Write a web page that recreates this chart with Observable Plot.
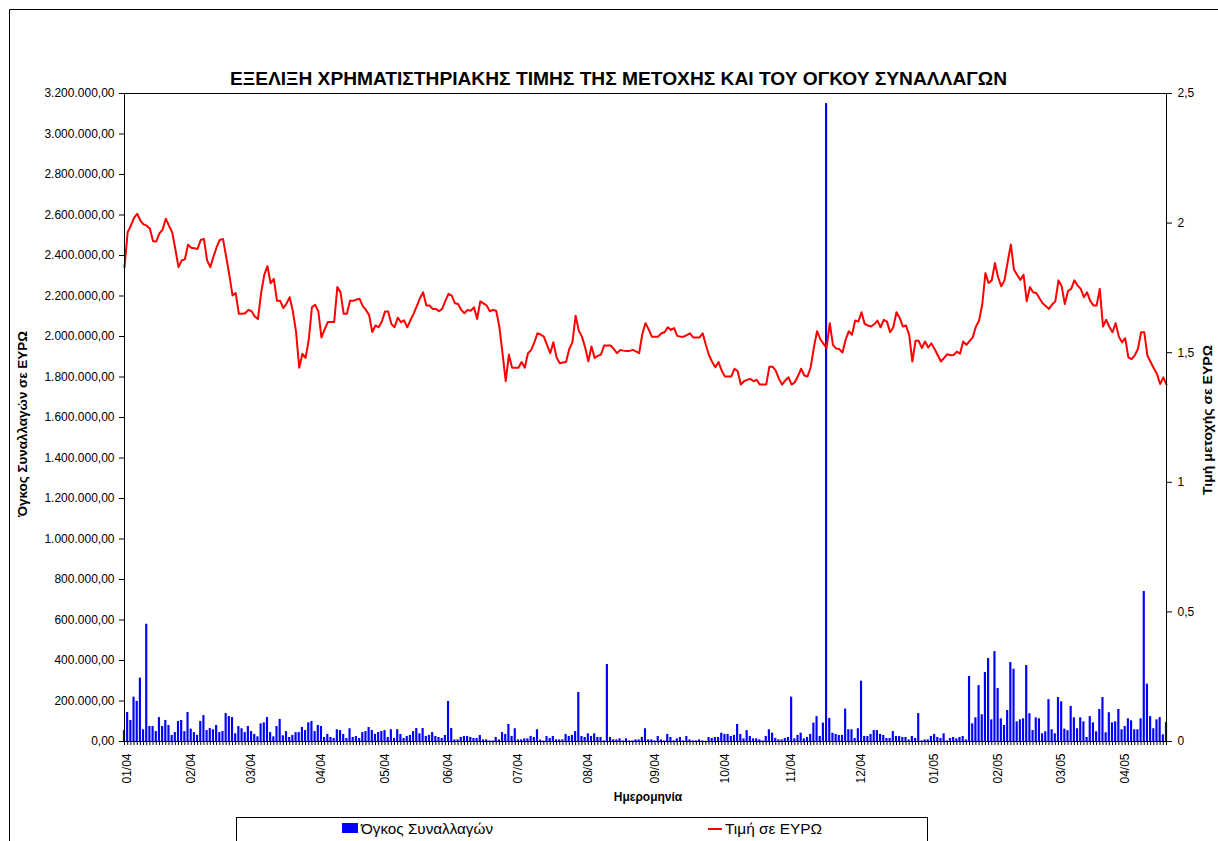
<!DOCTYPE html>
<html><head><meta charset="utf-8">
<script src="https://cdn.jsdelivr.net/npm/d3@7"></script>
<script src="https://cdn.jsdelivr.net/npm/@observablehq/plot@0.6"></script>
<style>
html,body{margin:0;padding:0;background:#fff;}
#wrap{position:relative;width:1218px;height:841px;overflow:hidden;background:#fff;}
#wrap svg{position:absolute;left:0;top:0;}
</style></head><body><div id="wrap"></div>
<script>
// Month labels and number of trading days (bars) in each month
const months = ["01/04","02/04","03/04","04/04","05/04","06/04","07/04","08/04","09/04","10/04","11/04","12/04","01/05","02/05","03/05","04/05"];
const tradingDays = [20,19,22,20,20,22,22,21,22,21,22,23,20,20,20,15];

// Daily traded value, thousands of EUR (left axis)
const volumeThousands = [
  54,143,104,219,198,313,58,579,74,74,49,118,74,104,79,30,44,99,104,49,
  143,61,44,30,99,128,54,64,58,79,44,49,138,123,118,38,74,63,44,
  74,49,35,23,87,92,118,44,23,74,109,28,49,20,30,44,44,69,54,92,99,49,
  79,74,20,35,20,15,58,54,35,15,63,20,25,15,44,49,69,54,35,44,
  49,54,20,58,15,58,35,15,25,30,49,64,38,64,25,30,44,25,20,15,
  30,198,64,8,8,20,25,25,20,15,15,30,8,8,3,3,20,8,44,35,84,25,
  63,8,8,13,13,25,20,58,7,2,25,15,25,8,8,8,35,25,30,49,242,25,
  20,38,25,38,20,20,3,380,20,8,8,13,3,13,3,3,8,8,20,63,8,
  8,3,25,8,3,35,20,3,13,20,3,25,8,3,3,8,3,1,20,15,20,20,
  41,35,35,25,30,84,35,13,54,25,13,13,8,3,25,58,41,15,8,8,15,
  20,219,13,30,41,13,20,35,91,123,25,91,3150,114,41,35,30,30,160,58,58,15,
  63,298,25,25,35,54,54,35,30,15,15,49,25,25,20,20,8,25,15,138,3,8,8,
  25,35,20,15,38,3,15,20,13,20,25,8,321,87,117,276,132,341,410,107,
  444,262,112,79,153,390,357,97,107,112,375,137,54,117,112,38,48,207,58,38,
  217,196,61,53,173,117,63,117,97,20,123,92,48,158,217,43,142,92,97,158,
  58,74,112,102,58,58,112,741,283,123,63,107,118,33,94
];

// Daily closing price, EUR (right axis)
const priceEUR = [
  1.83,1.965,1.99,2.02,2.036,2.01,1.995,1.99,1.978,1.93,1.929,1.96,1.975,2.017,1.99,1.965,1.90,1.83,1.856,1.86,
  1.917,1.905,1.903,1.90,1.935,1.939,1.856,1.83,1.87,1.907,1.935,1.939,1.87,1.80,1.721,1.73,1.65,1.65,1.652,
  1.665,1.66,1.64,1.63,1.73,1.80,1.834,1.768,1.785,1.70,1.70,1.672,1.69,1.714,1.66,1.58,1.442,1.496,1.48,1.55,1.675,1.685,
  1.66,1.559,1.59,1.618,1.618,1.618,1.753,1.733,1.65,1.65,1.70,1.70,1.705,1.708,1.68,1.665,1.645,1.58,1.605,1.598,
  1.62,1.659,1.659,1.611,1.598,1.635,1.618,1.625,1.598,1.625,1.65,1.68,1.71,1.733,1.682,1.682,1.669,1.669,1.66,1.669,
  1.70,1.727,1.72,1.691,1.688,1.665,1.652,1.665,1.662,1.675,1.63,1.698,1.69,1.682,1.66,1.665,1.662,1.60,1.496,1.39,1.493,1.442,
  1.442,1.442,1.464,1.442,1.498,1.51,1.54,1.575,1.57,1.562,1.53,1.498,1.54,1.482,1.459,1.462,1.464,1.514,1.54,1.643,1.585,1.562,
  1.52,1.467,1.524,1.48,1.488,1.493,1.528,1.528,1.528,1.515,1.498,1.51,1.508,1.507,1.507,1.511,1.505,1.498,1.572,1.614,1.59,
  1.562,1.562,1.562,1.575,1.579,1.598,1.588,1.595,1.565,1.562,1.562,1.568,1.575,1.559,1.559,1.559,1.575,1.53,1.49,1.464,1.444,1.464,
  1.43,1.408,1.408,1.408,1.438,1.429,1.377,1.39,1.395,1.399,1.39,1.395,1.377,1.377,1.377,1.446,1.446,1.431,1.399,1.377,1.393,
  1.405,1.377,1.386,1.41,1.438,1.412,1.408,1.444,1.52,1.583,1.553,1.535,1.518,1.614,1.53,1.516,1.514,1.501,1.55,1.583,1.569,1.624,
  1.62,1.656,1.611,1.605,1.601,1.61,1.624,1.598,1.627,1.62,1.579,1.598,1.656,1.635,1.601,1.605,1.569,1.466,1.546,1.546,1.518,1.543,1.52,
  1.536,1.514,1.49,1.466,1.48,1.494,1.49,1.491,1.504,1.496,1.543,1.53,1.545,1.559,1.60,1.624,1.686,1.807,1.769,1.779,
  1.846,1.791,1.756,1.779,1.85,1.917,1.82,1.80,1.781,1.801,1.698,1.753,1.733,1.73,1.71,1.691,1.68,1.669,1.686,1.698,
  1.779,1.756,1.688,1.738,1.746,1.779,1.76,1.746,1.714,1.733,1.70,1.682,1.682,1.746,1.601,1.627,1.60,1.579,1.614,1.562,
  1.54,1.556,1.482,1.475,1.49,1.514,1.579,1.579,1.488,1.464,1.44,1.418,1.379,1.405,1.377
];

const volumeTicks = [0,200000,400000,600000,800000,1000000,1200000,1400000,1600000,1800000,2000000,2200000,2400000,2600000,2800000,3000000,3200000];
const priceTicks = [0,0.5,1,1.5,2,2.5];

const title = "ΕΞΕΛΙΞΗ ΧΡΗΜΑΤΙΣΤΗΡΙΑΚΗΣ ΤΙΜΗΣ ΤΗΣ ΜΕΤΟΧΗΣ ΚΑΙ ΤΟΥ ΟΓΚΟΥ ΣΥΝΑΛΛΑΓΩΝ";
const leftTitle = "Όγκος Συναλλαγών σε ΕΥΡΩ";
const rightTitle = "Τιμή μετοχής σε ΕΥΡΩ";
const xTitle = "Ημερομηνία";
const legendVolume = "Όγκος Συναλλαγών";
const legendPrice = "Τιμή σε ΕΥΡΩ";

// ---- build table ----
const rows = volumeThousands.map((v, i) => ({i, volume: v * 1000, price: priceEUR[i]}));
const N = rows.length;
const monthStart = [];
let acc = 0;
for (const n of tradingDays) { monthStart.push(acc); acc += n; }
const labelAt = new Map(monthStart.map((s, k) => [s, months[k]]));

const VMAX = volumeTicks[volumeTicks.length - 1];
const PMAX = priceTicks[priceTicks.length - 1];
const k = VMAX / PMAX; // price -> left scale
const greek = d3.formatLocale({decimal: ",", thousands: ".", grouping: [3], currency: ["", ""]});
const fmtVol = greek.format(",.2f");
const fmtPrice = d => String(d).replace(".", ",");
const FONT = "'Liberation Sans', Arial, sans-serif";

const chart = Plot.plot({
  width: 1218,
  height: 841,
  marginLeft: 124,
  marginRight: 52,
  marginTop: 93,
  marginBottom: 100,
  style: {fontFamily: FONT, fontSize: "12px", color: "#000", background: "transparent", overflow: "visible"},
  x: {type: "linear", domain: [0, N - 1], axis: null},
  y: {type: "linear", domain: [0, VMAX], axis: null},
  marks: [
    Plot.rectY(rows, {x1: d => d.i - 0.34, x2: d => d.i + 0.34, y: "volume", fill: "#0000ff"}),
    Plot.lineY(rows, {x: "i", y: d => d.price * k, stroke: "#ff0000", strokeWidth: 2, strokeLinejoin: "round"}),
    Plot.frame({stroke: "#000", strokeWidth: 1}),
    Plot.axisY(volumeTicks, {anchor: "left", tickSize: 5, tickPadding: 5, tickFormat: fmtVol, label: null, stroke: "#000", fill: "#000"}),
    Plot.axisY(priceTicks, {anchor: "right", y: d => d * k, tickSize: 5, tickPadding: 6, tickFormat: fmtPrice, label: null, stroke: "#000", fill: "#000"}),
    Plot.axisX(d3.range(N), {anchor: "bottom", tickSize: 4, tickFormat: () => "", label: null, stroke: "#000"}),
    Plot.axisX(monthStart, {anchor: "bottom", tickSize: 0, tickPadding: 12, tickRotate: -90, dx: 3, tickFormat: d => labelAt.get(d), label: null, fill: "#000"})
  ]
});
document.getElementById("wrap").appendChild(chart);

// ---- overlay: titles, legend, outer border ----
const o = d3.select("#wrap").append("svg").attr("width", 1218).attr("height", 841).style("pointer-events", "none");
o.append("path").attr("d", "M9.5,841V9.5H1218").attr("fill", "none").attr("stroke", "#000");

o.append("text").attr("x", 618.5).attr("y", 85).attr("text-anchor", "middle")
  .attr("font-family", FONT).attr("font-weight", "bold").attr("font-size", 18)
  .attr("textLength", 777).attr("lengthAdjust", "spacingAndGlyphs").text(title);

o.append("text").attr("transform", "translate(27,424) rotate(-90)").attr("text-anchor", "middle")
  .attr("font-family", FONT).attr("font-weight", "bold").attr("font-size", 12)
  .attr("textLength", 186).attr("lengthAdjust", "spacingAndGlyphs").text(leftTitle);

o.append("text").attr("transform", "translate(1212,420) rotate(-90)").attr("text-anchor", "middle")
  .attr("font-family", FONT).attr("font-weight", "bold").attr("font-size", 12)
  .attr("textLength", 150).attr("lengthAdjust", "spacingAndGlyphs").text(rightTitle);

o.append("text").attr("x", 648).attr("y", 801).attr("text-anchor", "middle")
  .attr("font-family", FONT).attr("font-weight", "bold").attr("font-size", 12).text(xTitle);

// legend box
o.append("rect").attr("x", 236.5).attr("y", 817.5).attr("width", 691).attr("height", 40)
  .attr("fill", "#fff").attr("stroke", "#000");
o.append("rect").attr("x", 342).attr("y", 823).attr("width", 16).attr("height", 10).attr("fill", "#0000ff");
o.append("text").attr("x", 361).attr("y", 834).attr("font-family", FONT).attr("font-size", 14)
  .attr("textLength", 132).attr("lengthAdjust", "spacingAndGlyphs").text(legendVolume);
o.append("line").attr("x1", 708).attr("x2", 722).attr("y1", 829).attr("y2", 829).attr("stroke", "#ff0000").attr("stroke-width", 2);
o.append("text").attr("x", 725).attr("y", 834).attr("font-family", FONT).attr("font-size", 14)
  .attr("textLength", 97).attr("lengthAdjust", "spacingAndGlyphs").text(legendPrice);
</script>
</body></html>
